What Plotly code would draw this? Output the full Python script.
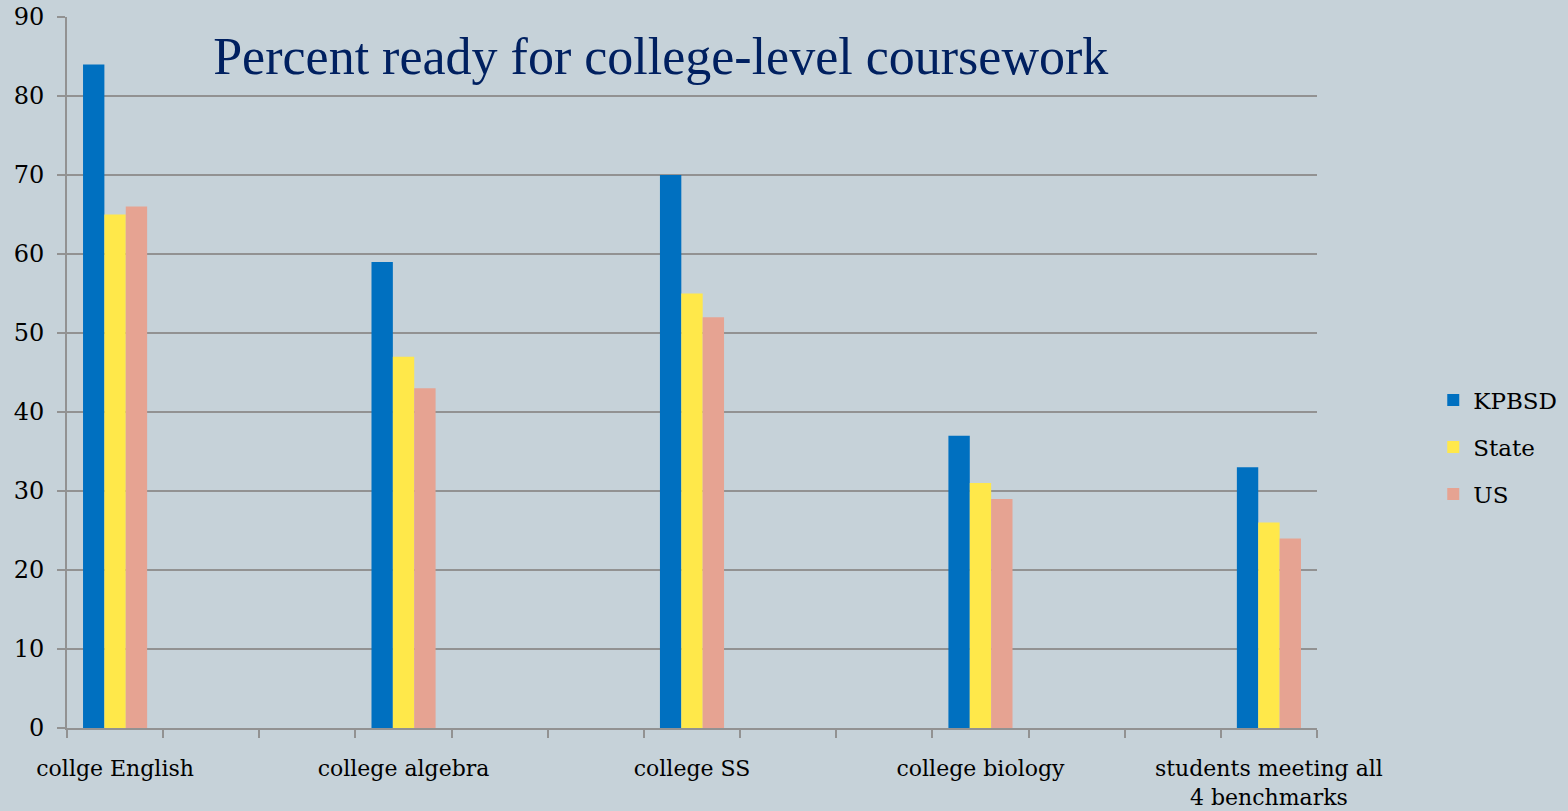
import plotly.graph_objects as go

# 13 category slots on the original axis; only every third one holds data
categories = ["collge English", "", "", "college algebra", "", "", "college SS", "", "",
              "college biology", "", "", "students meeting all<br>4 benchmarks"]
kpbsd = [84, None, None, 59, None, None, 70, None, None, 37, None, None, 33]
state = [65, None, None, 47, None, None, 55, None, None, 31, None, None, 26]
us = [66, None, None, 43, None, None, 52, None, None, 29, None, None, 24]
series_names = ["KPBSD", "State", "US"]
series_colors = ["#0070C0", "#FFE84A", "#E6A392"]
y_ticks = [0, 10, 20, 30, 40, 50, 60, 70, 80, 90]

FONT = "DejaVu Serif"
TITLE_FONT = "Liberation Serif"
GRID = "#929292"
BG = "#C6D2D9"

x = list(range(len(categories)))
label_idx = [i for i, c in enumerate(categories) if c]

fig = go.Figure()
for name, vals, col in zip(series_names, [kpbsd, state, us], series_colors):
    fig.add_trace(go.Bar(x=x, y=vals, name=name, legendgroup=name,
                         marker=dict(color=col, line=dict(width=0))))

fig.update_layout(
    width=1568, height=811,
    paper_bgcolor=BG, plot_bgcolor=BG,
    barmode="group", bargap=1/3, bargroupgap=0,
    margin=dict(l=66.7, r=251, t=16.7, b=83.3, autoexpand=False),
    font=dict(family=FONT, size=22, color="#000000"),
    title=dict(text="Percent ready for college-level coursework",
               font=dict(family=TITLE_FONT, size=52, color="#002060"),
               x=0.475, xref="paper", xanchor="center",
               y=0.946, yref="paper", yanchor="middle"),
    legend=dict(x=1.093, xanchor="left", y=0.395, yanchor="middle",
                font=dict(family=FONT, size=23), bgcolor="rgba(0,0,0,0)",
                itemwidth=30, tracegroupgap=14),
    showlegend=True,
)
fig.update_xaxes(
    range=[-0.5, len(categories) - 0.5],
    tickmode="array", tickvals=label_idx, ticktext=[categories[i] for i in label_idx],
    ticks="", ticklabelstandoff=20,
    showline=True, linecolor=GRID, linewidth=2,
    showgrid=False, zeroline=False,
    minor=dict(ticks="outside", ticklen=8, tickcolor=GRID, tickwidth=2,
               tick0=-0.5, dtick=1, showgrid=False),
    tickfont=dict(family=FONT, size=22),
)
fig.update_yaxes(
    range=[0, 90], tickvals=y_ticks,
    ticks="outside", ticklen=8, tickcolor=GRID, tickwidth=2,
    showline=True, linecolor=GRID, linewidth=2,
    showgrid=True, gridcolor=GRID, gridwidth=1.5,
    zeroline=False, ticklabelstandoff=8,
    tickfont=dict(family=FONT, size=24),
)
fig.write_html("out.html", config={"displayModeBar": False},
               post_script="document.body.style.margin='0';document.body.style.background='%s';" % BG)
